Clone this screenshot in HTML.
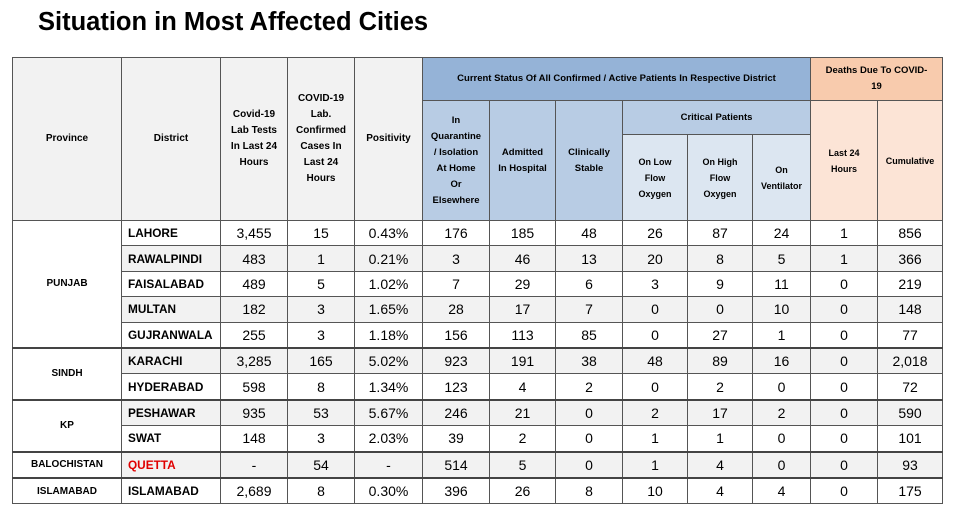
<!DOCTYPE html>
<html><head><meta charset="utf-8"><style>
body{margin:0;width:954px;height:512px;background:#fff;font-family:"Liberation Sans",sans-serif;position:relative;overflow:hidden}
h1{position:absolute;left:38px;top:8px;margin:0;font-size:25.5px;font-weight:bold;color:#000;letter-spacing:0px}
table{position:absolute;left:12px;top:57px;border-collapse:collapse;table-layout:fixed}
td{border:1px solid #555;text-align:center;padding:0;overflow:hidden}
thead td{font-size:10px;font-weight:bold;line-height:16px;background:#f2f2f2}
thead td.b1{background:#95b3d7;font-size:9.5px}
thead td.b2{background:#b8cce4;font-size:9.5px;line-height:16px}
thead td.b3{background:#dce6f1;font-size:9px;line-height:16px}
thead td.o1{background:#f8cbad;font-size:9.5px}
thead td.o2{background:#fce4d6;font-size:9px}
tbody td{height:24.4px;font-size:14px}
tbody td.d{text-align:left;padding-left:6px;font-weight:bold;font-size:11.8px;white-space:nowrap}
tbody td.p{font-weight:bold;font-size:10px;background:#fff}
tbody tr.g td{background:#f2f2f2}
tbody tr.g td.p{background:#fff}
tr.sep td{border-top:2px solid #444}
</style></head><body>
<h1>Situation in Most Affected Cities</h1>
<table>
<colgroup><col style="width:109px"><col style="width:99px"><col style="width:67px"><col style="width:67px"><col style="width:68px"><col style="width:67px"><col style="width:66px"><col style="width:67px"><col style="width:65px"><col style="width:65px"><col style="width:58px"><col style="width:67px"><col style="width:65px"></colgroup>
<thead>
<tr style="height:43px"><td rowspan="3">Province</td><td rowspan="3">District</td><td rowspan="3">Covid-19<br>Lab Tests<br>In Last 24<br>Hours</td><td rowspan="3">COVID-19<br>Lab.<br>Confirmed<br>Cases In<br>Last 24<br>Hours</td><td rowspan="3">Positivity</td><td colspan="6" class="b1">Current Status Of All Confirmed / Active Patients In Respective District</td><td colspan="2" class="o1">Deaths Due To COVID-<br>19</td></tr>
<tr style="height:34px"><td rowspan="2" class="b2">In<br>Quarantine<br>/ Isolation<br>At Home<br>Or<br>Elsewhere</td><td rowspan="2" class="b2">Admitted<br>In Hospital</td><td rowspan="2" class="b2">Clinically<br>Stable</td><td colspan="3" class="b2">Critical Patients</td><td rowspan="2" class="o2">Last 24<br>Hours</td><td rowspan="2" class="o2">Cumulative</td></tr>
<tr style="height:86px"><td class="b3">On Low<br>Flow<br>Oxygen</td><td class="b3">On High<br>Flow<br>Oxygen</td><td class="b3">On<br>Ventilator</td></tr>
</thead>
<tbody>
<tr><td rowspan="5" class="p">PUNJAB</td><td class="d">LAHORE</td><td>3,455</td><td>15</td><td>0.43%</td><td>176</td><td>185</td><td>48</td><td>26</td><td>87</td><td>24</td><td>1</td><td>856</td></tr>
<tr class="g"><td class="d">RAWALPINDI</td><td>483</td><td>1</td><td>0.21%</td><td>3</td><td>46</td><td>13</td><td>20</td><td>8</td><td>5</td><td>1</td><td>366</td></tr>
<tr><td class="d">FAISALABAD</td><td>489</td><td>5</td><td>1.02%</td><td>7</td><td>29</td><td>6</td><td>3</td><td>9</td><td>11</td><td>0</td><td>219</td></tr>
<tr class="g"><td class="d">MULTAN</td><td>182</td><td>3</td><td>1.65%</td><td>28</td><td>17</td><td>7</td><td>0</td><td>0</td><td>10</td><td>0</td><td>148</td></tr>
<tr><td class="d">GUJRANWALA</td><td>255</td><td>3</td><td>1.18%</td><td>156</td><td>113</td><td>85</td><td>0</td><td>27</td><td>1</td><td>0</td><td>77</td></tr>
<tr class="g sep"><td rowspan="2" class="p">SINDH</td><td class="d">KARACHI</td><td>3,285</td><td>165</td><td>5.02%</td><td>923</td><td>191</td><td>38</td><td>48</td><td>89</td><td>16</td><td>0</td><td>2,018</td></tr>
<tr><td class="d">HYDERABAD</td><td>598</td><td>8</td><td>1.34%</td><td>123</td><td>4</td><td>2</td><td>0</td><td>2</td><td>0</td><td>0</td><td>72</td></tr>
<tr class="g sep"><td rowspan="2" class="p">KP</td><td class="d">PESHAWAR</td><td>935</td><td>53</td><td>5.67%</td><td>246</td><td>21</td><td>0</td><td>2</td><td>17</td><td>2</td><td>0</td><td>590</td></tr>
<tr><td class="d">SWAT</td><td>148</td><td>3</td><td>2.03%</td><td>39</td><td>2</td><td>0</td><td>1</td><td>1</td><td>0</td><td>0</td><td>101</td></tr>
<tr class="g sep"><td class="p">BALOCHISTAN</td><td class="d" style="color:#e00000">QUETTA</td><td>-</td><td>54</td><td>-</td><td>514</td><td>5</td><td>0</td><td>1</td><td>4</td><td>0</td><td>0</td><td>93</td></tr>
<tr class="sep"><td class="p">ISLAMABAD</td><td class="d">ISLAMABAD</td><td>2,689</td><td>8</td><td>0.30%</td><td>396</td><td>26</td><td>8</td><td>10</td><td>4</td><td>4</td><td>0</td><td>175</td></tr>
</tbody>
</table>
</body></html>
